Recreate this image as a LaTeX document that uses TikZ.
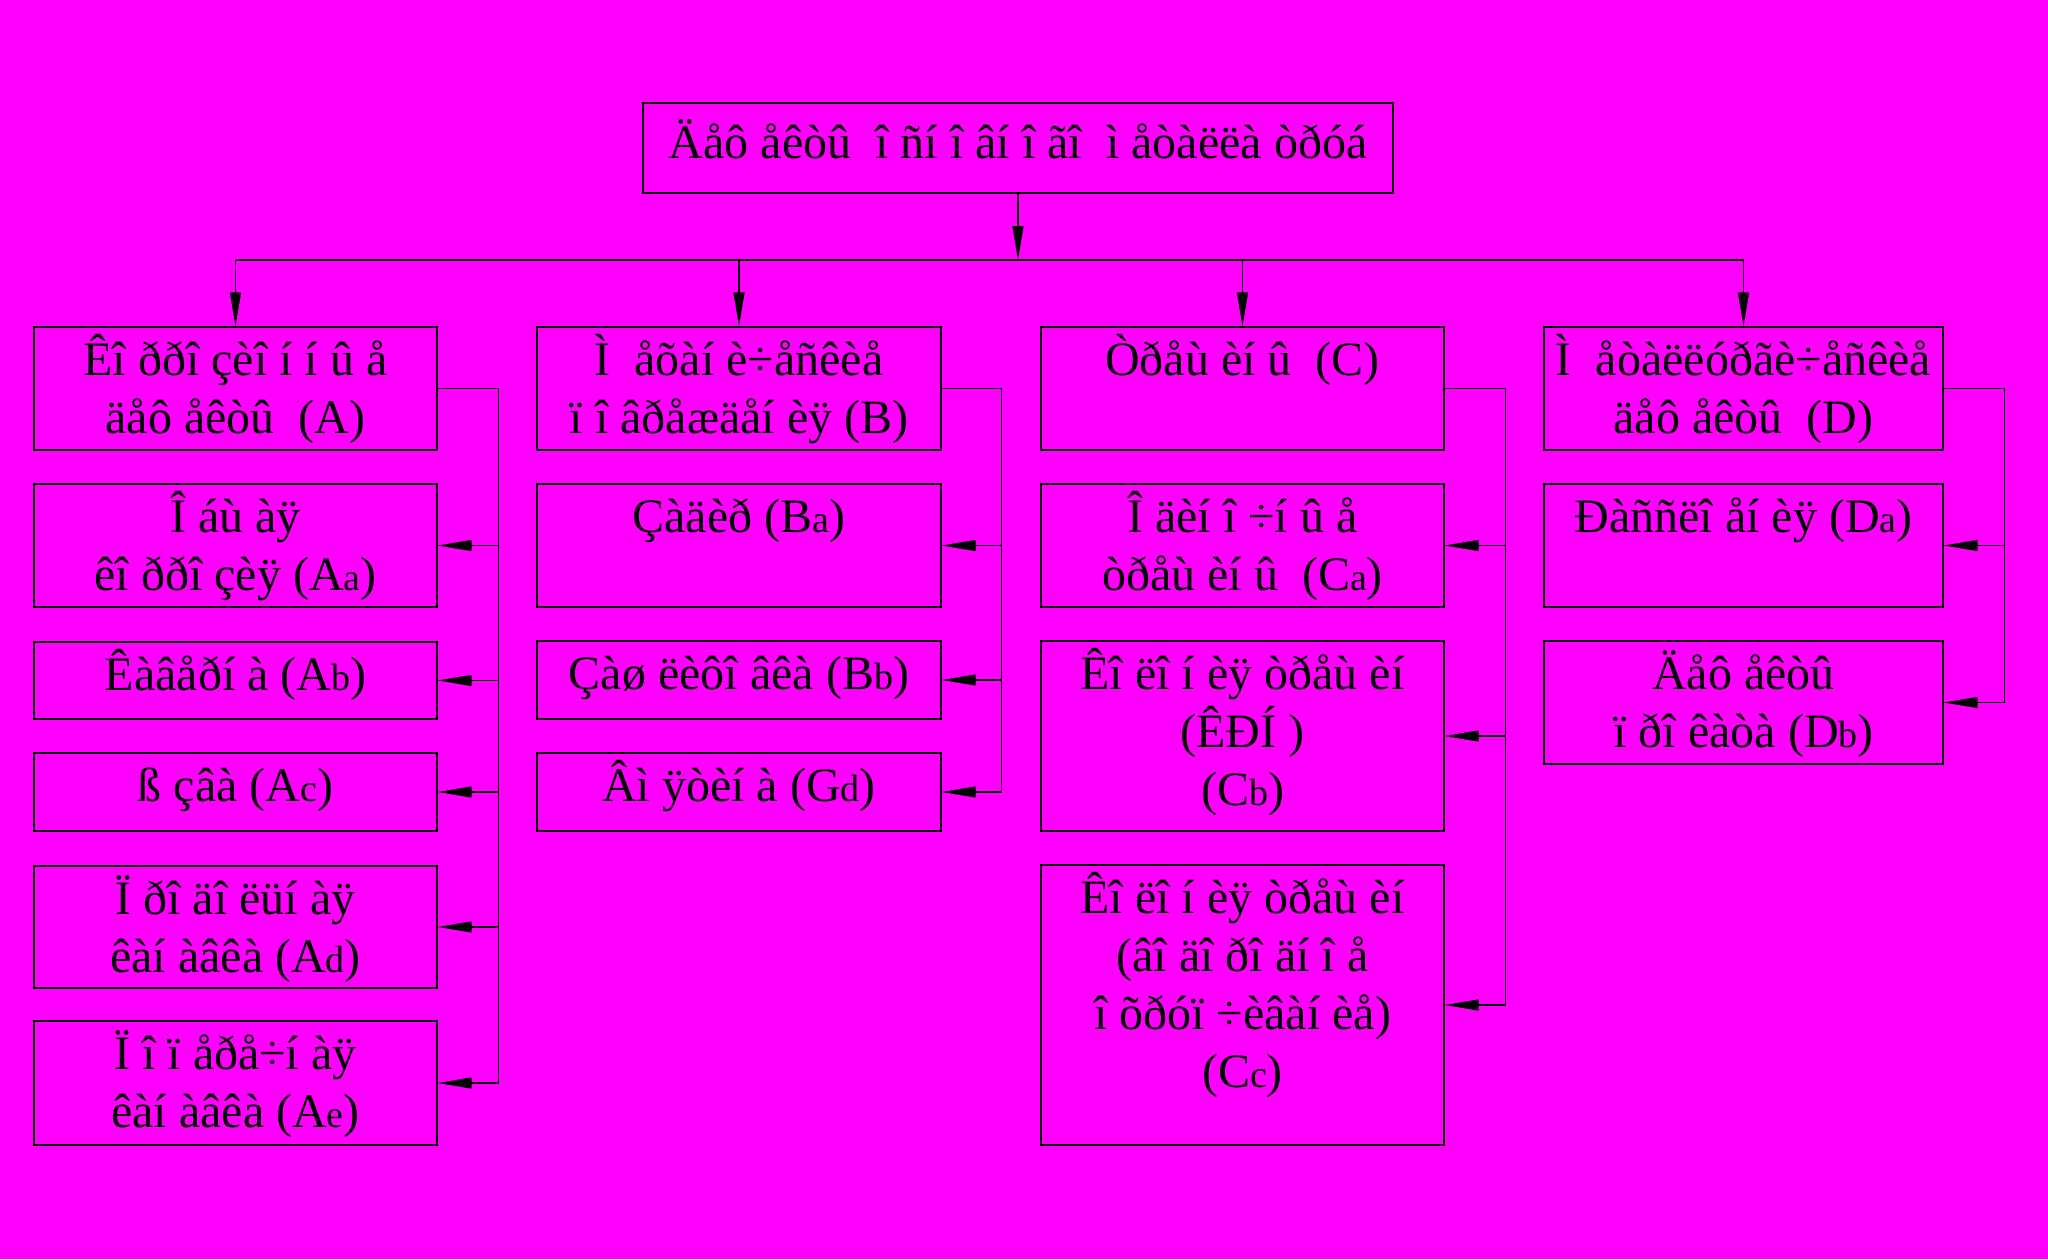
\documentclass[tikz,border=0pt]{standalone}
\usepackage{fontspec}
\setmainfont{Liberation Serif}
\usetikzlibrary{arrows.meta,fit,calc}
\definecolor{bg}{RGB}{255,0,255}
\newcommand{\sm}[1]{{\fontsize{38}{58}\selectfont #1}}
\newcommand{\tb}[1]{\begin{tabular}[t]{@{}c@{}}#1\end{tabular}}
\begin{document}
\begin{tikzpicture}[x=1pt,y=-1pt,
  box/.style={draw, line width=1.3pt, inner sep=0pt, rectangle},
  txt/.style={anchor=base, inner sep=0pt, font=\fontsize{48}{58}\selectfont},
  ln/.style={draw, line width=1.3pt},
  arr/.style={ln, -{Triangle[length=34pt,width=11pt]}}]
\fill[bg] (0,0) rectangle (2048,1259);
\useasboundingbox (0,0) rectangle (2048,1259);
% top
\node[box, fit={(643,103)(1393,193)}] (T) {};
\node[txt] (Tt) at ([yshift=-56pt]T.north) {\tb{Äåô åêòû\ \ î ñí î âí î ãî\ \ ì åòàëëà òðóá}};
% column A
\node[box, fit={(34,327)(437,450)}] (A) {};
\node[box, fit={(34,484)(437,607)}] (Aa) {};
\node[box, fit={(34,642)(437,719)}] (Ab) {};
\node[box, fit={(34,753)(437,831)}] (Ac) {};
\node[box, fit={(34,866)(437,988)}] (Ad) {};
\node[box, fit={(34,1021)(437,1145)}] (Ae) {};
% column B
\node[box, fit={(537,327)(941,450)}] (B) {};
\node[box, fit={(537,484)(941,607)}] (Ba) {};
\node[box, fit={(537,641)(941,719)}] (Bb) {};
\node[box, fit={(537,753)(941,831)}] (Gd) {};
% column C
\node[box, fit={(1041,327)(1444,450)}] (C) {};
\node[box, fit={(1041,484)(1444,607)}] (Ca) {};
\node[box, fit={(1041,641)(1444,831)}] (Cb) {};
\node[box, fit={(1041,865)(1444,1145)}] (Cc) {};
% column D
\node[box, fit={(1544,327)(1943,450)}] (D) {};
\node[box, fit={(1544,484)(1943,607)}] (Da) {};
\node[box, fit={(1544,641)(1943,764)}] (Db) {};
% texts
\node[txt] (At) at ([yshift=-49pt]A.north) {\tb{Êî ððî çèî í í û å\\äåô åêòû\ \ (A)}};
\node[txt] (Aat) at ([yshift=-49pt]Aa.north) {\tb{Î áù àÿ\\êî ððî çèÿ (A\sm{a})}};
\node[txt] (Abt) at ([yshift=-49pt]Ab.north) {\tb{Êàâåðí à (A\sm{b})}};
\node[txt] (Act) at ([yshift=-49pt]Ac.north) {\tb{ß çâà (A\sm{c})}};
\node[txt] (Adt) at ([yshift=-49pt]Ad.north) {\tb{Ï ðî äî ëüí àÿ\\êàí àâêà (A\sm{d})}};
\node[txt] (Aet) at ([yshift=-49pt]Ae.north) {\tb{Ï î ï åðå÷í àÿ\\êàí àâêà (A\sm{e})}};
\node[txt] (Bt) at ([yshift=-49pt]B.north) {\tb{Ì\ \ åõàí è÷åñêèå\\ï î âðåæäåí èÿ (B)}};
\node[txt] (Bat) at ([yshift=-49pt]Ba.north) {\tb{Çàäèð (B\sm{a})}};
\node[txt] (Bbt) at ([yshift=-49pt]Bb.north) {\tb{Çàø ëèôî âêà (B\sm{b})}};
\node[txt] (Gdt) at ([yshift=-49pt]Gd.north) {\tb{Âì ÿòèí à (G\sm{d})}};
\node[txt] (Ct) at ([yshift=-49pt]C.north) {\tb{Òðåù èí û\ \ (C)}};
\node[txt] (Cat) at ([yshift=-49pt]Ca.north) {\tb{Î äèí î ÷í û å\\òðåù èí û\ \ (C\sm{a})}};
\node[txt] (Cbt) at ([yshift=-49pt]Cb.north) {\tb{Êî ëî í èÿ òðåù èí\\(ÊÐÍ\ )\\(C\sm{b})}};
\node[txt] (Cct) at ([yshift=-49pt]Cc.north) {\tb{Êî ëî í èÿ òðåù èí\\(âî äî ðî äí î å\\î õðóï ÷èâàí èå)\\(C\sm{c})}};
\node[txt] (Dt) at ([yshift=-49pt]D.north) {\tb{Ì\ \ åòàëëóðãè÷åñêèå\\äåô åêòû\ \ (D)}};
\node[txt] (Dat) at ([yshift=-49pt]Da.north) {\tb{Ðàññëî åí èÿ (D\sm{a})}};
\node[txt] (Dbt) at ([yshift=-49pt]Db.north) {\tb{Äåô åêòû\\ï ðî êàòà (D\sm{b})}};
% bus
\coordinate (busL) at (A.north |- 0,260);
\coordinate (busR) at (D.north |- 0,260);
\draw[arr] (T.south) -- (T.south |- busL);
\draw[ln] (busL) -- (busR);
\foreach \n in {A,B,C,D} \draw[arr] (\n.north |- busL) -- (\n.north);
% side connectors
\coordinate (vA) at ($(A.east)+(61,0)$);
\coordinate (vB) at ($(B.east)+(60,0)$);
\coordinate (vC) at ($(C.east)+(61,0)$);
\coordinate (vD) at ($(D.east)+(61,0)$);
\draw[ln] (A.east) -- (vA) -- (vA |- Ae.east);
\foreach \n in {Aa,Ab,Ac,Ad,Ae} \draw[arr] (vA |- \n.east) -- (\n.east);
\draw[ln] (B.east) -- (vB) -- (vB |- Gd.east);
\foreach \n in {Ba,Bb,Gd} \draw[arr] (vB |- \n.east) -- (\n.east);
\draw[ln] (C.east) -- (vC) -- (vC |- Cc.east);
\foreach \n in {Ca,Cb,Cc} \draw[arr] (vC |- \n.east) -- (\n.east);
\draw[ln] (D.east) -- (vD) -- (vD |- Db.east);
\foreach \n in {Da,Db} \draw[arr] (vD |- \n.east) -- (\n.east);
\end{tikzpicture}
\end{document}
